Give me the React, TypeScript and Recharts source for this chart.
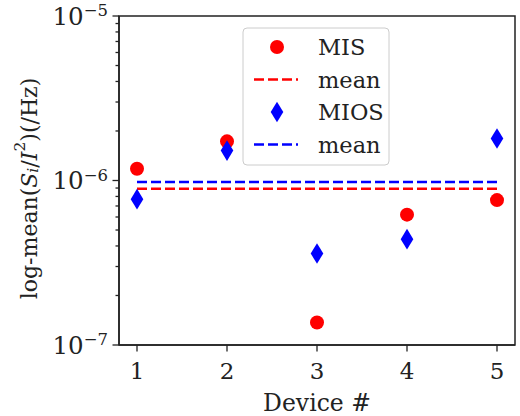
import React from "react";
import {
  ScatterChart,
  Scatter,
  XAxis,
  YAxis,
  ReferenceLine,
  ReferenceArea,
} from "recharts";

const devices = [1, 2, 3, 4, 5];
const misValues = [1.18e-6, 1.73e-6, 1.37e-7, 6.2e-7, 7.6e-7];
const miosValues = [7.7e-7, 1.52e-6, 3.6e-7, 4.4e-7, 1.8e-6];
const misMean = 8.9e-7;
const miosMean = 9.8e-7;
const majorTicks = [1e-7, 1e-6, 1e-5];
const majorLabels = ["−7", "−6", "−5"];
const minorMultipliers = [2, 3, 4, 5, 6, 7, 8, 9];

const FONT = "DejaVu Serif";
const AXIS = "#222";

const misData = devices.map((d, i) => ({ x: d, y: misValues[i] }));
const miosData = devices.map((d, i) => ({ x: d, y: miosValues[i] }));
const yTicks = [
  ...majorTicks,
  ...majorTicks.slice(0, -1).flatMap((m) => minorMultipliers.map((k) => k * m)),
];

function YTick(props: any) {
  const { x, y, payload } = props;
  const idx = majorTicks.findIndex((t) => Math.abs(t - payload.value) / t < 1e-6);
  const major = idx >= 0;
  return (
    <g>
      <line x1={x} x2={x - (major ? 6.5 : 3.5)} y1={y} y2={y} stroke={AXIS} strokeWidth={1.3} />
      {major && (
        <text x={x - 11} y={y + 8.5} textAnchor="end" fontFamily={FONT} fontSize={24.5} fill="#222">
          10
          <tspan dy={-8.5} fontSize={16.5}>
            {majorLabels[idx]}
          </tspan>
        </text>
      )}
    </g>
  );
}

function XTick(props: any) {
  const { x, y, payload } = props;
  return (
    <g>
      <line x1={x} x2={x} y1={y} y2={y + 6.5} stroke={AXIS} strokeWidth={1.3} />
      <text x={x} y={y + 33.5} textAnchor="middle" fontFamily={FONT} fontSize={23} fill="#222">
        {payload.value}
      </text>
    </g>
  );
}

function YLabel(props: any) {
  const vb = props.viewBox || { x: 0, y: 16, width: 119, height: 329 };
  const cx = 29;
  const cy = vb.y + vb.height / 2 + 8;
  return (
    <text
      x={cx}
      y={cy}
      transform={`rotate(-90 ${cx} ${cy})`}
      textAnchor="middle"
      dominantBaseline="central"
      fontFamily={FONT}
      fontSize={22}
      fill="#222"
    >
      log-mean(
      <tspan fontStyle="italic">S</tspan>
      <tspan fontStyle="italic" fontSize={15.5} dy={4}>
        i
      </tspan>
      <tspan dy={-4}>/</tspan>
      <tspan fontStyle="italic">I</tspan>
      <tspan fontSize={15.5} dy={-9}>
        2
      </tspan>
      <tspan dy={9}>)(/Hz)</tspan>
    </text>
  );
}

function Circle(props: any) {
  const { cx, cy } = props;
  return <circle cx={cx} cy={cy} r={7} fill="#ff0000" />;
}

function Diamond(props: any) {
  const { cx, cy } = props;
  const w = 6.3;
  const h = 10.3;
  return (
    <polygon
      points={`${cx},${cy - h} ${cx + w},${cy} ${cx},${cy + h} ${cx - w},${cy}`}
      fill="#0000ff"
    />
  );
}

function LegendBox() {
  const rows = [
    { kind: "circle", label: "MIS", color: "#ff0000" },
    { kind: "line", label: "mean", color: "#ff0000" },
    { kind: "diamond", label: "MIOS", color: "#0000ff" },
    { kind: "line", label: "mean", color: "#0000ff" },
  ];
  return (
    <svg
      width={148}
      height={140}
      style={{ position: "absolute", left: 242, top: 27, overflow: "visible" }}
    >
      <rect x={1} y={1} width={146} height={137} rx={4} fill="rgba(255,255,255,0.8)" stroke="#cccccc" />
      {rows.map((r, i) => {
        const cy = 20 + i * 32.5;
        return (
          <g key={i}>
            {r.kind === "circle" && <circle cx={35} cy={cy} r={7} fill={r.color} />}
            {r.kind === "diamond" && (
              <polygon points={`35,${cy - 10.3} 41.3,${cy} 35,${cy + 10.3} 28.7,${cy}`} fill={r.color} />
            )}
            {r.kind === "line" && (
              <line x1={12} x2={56} y1={cy} y2={cy} stroke={r.color} strokeWidth={2.5} strokeDasharray="10 4" />
            )}
            <text x={76} y={cy + 8} fontFamily={FONT} fontSize={22.5} fill="#222">
              {r.label}
            </text>
          </g>
        );
      })}
    </svg>
  );
}

export default function App() {
  return (
    <div style={{ position: "absolute", left: 0, top: 0, width: 520, height: 416, background: "#fff" }}>
      <ScatterChart width={520} height={416} margin={{ top: 16, right: 5, bottom: 31, left: 0 }}>
        <XAxis
          type="number"
          dataKey="x"
          domain={[0.8, 5.2]}
          ticks={devices}
          allowDataOverflow
          height={40}
          tickSize={0}
          tickMargin={0}
          tick={<XTick />}
          stroke={AXIS}
          strokeWidth={1.5}
          label={{
            value: "Device #",
            position: "insideBottom",
            offset: -26,
            fontFamily: FONT,
            fontSize: 23.5,
            fill: "#222",
          }}
        />
        <YAxis
          type="number"
          dataKey="y"
          scale="log"
          domain={[1e-7, 1e-5]}
          ticks={yTicks}
          interval={0}
          allowDataOverflow
          width={119}
          tickSize={0}
          tickMargin={0}
          tick={<YTick />}
          stroke={AXIS}
          strokeWidth={1.5}
          label={<YLabel />}
        />
        <ReferenceArea
          x1={0.8}
          x2={5.2}
          y1={1e-7}
          y2={1e-5}
          fill="none"
          fillOpacity={0}
          stroke={AXIS}
          strokeWidth={1.5}
          ifOverflow="visible"
        />
        <ReferenceLine
          segment={[
            { x: devices[0], y: misMean },
            { x: devices[devices.length - 1], y: misMean },
          ]}
          stroke="#ff0000"
          strokeWidth={2.5}
          strokeDasharray="10 4"
        />
        <ReferenceLine
          segment={[
            { x: devices[0], y: miosMean },
            { x: devices[devices.length - 1], y: miosMean },
          ]}
          stroke="#0000ff"
          strokeWidth={2.5}
          strokeDasharray="10 4"
        />
        <Scatter name="MIS" data={misData} shape={<Circle />} isAnimationActive={false} />
        <Scatter name="MIOS" data={miosData} shape={<Diamond />} isAnimationActive={false} />
      </ScatterChart>
      <LegendBox />
    </div>
  );
}
